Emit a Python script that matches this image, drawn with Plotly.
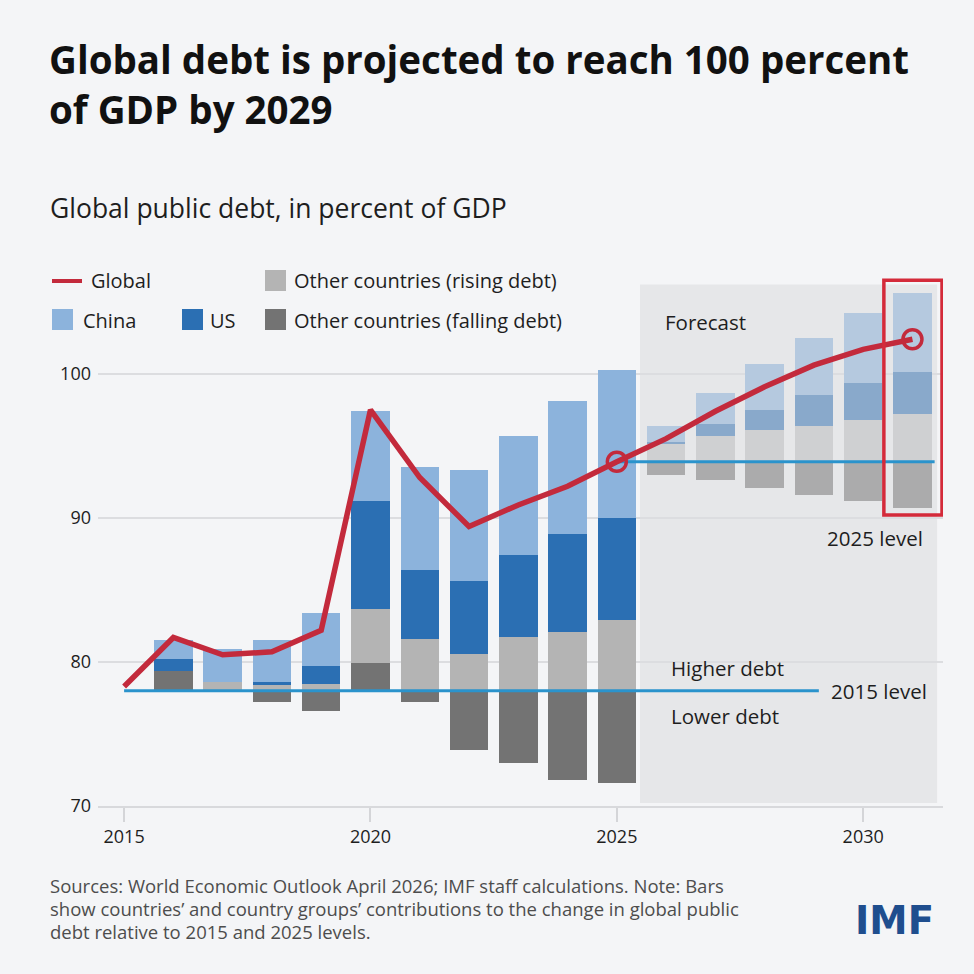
import numpy as np
import plotly.graph_objects as go

# contributions to change in global public debt (pp of GDP)
years = list(range(2016, 2032))
china = [1.3, 2.3, 2.9, 3.7, 6.2, 7.1, 7.7, 8.3, 9.2, 10.3, 1.15, 2.2, 3.2, 4.0, 4.85, 5.5]
us = [0.8, 0.0, 0.2, 1.2, 7.55, 4.8, 5.05, 5.7, 6.8, 7.1, 0.15, 0.8, 1.4, 2.1, 2.55, 2.9]
rising = [0.0, 0.6, 0.4, 0.5, 3.75, 3.6, 2.55, 3.7, 4.1, 4.9, 1.2, 1.8, 2.2, 2.5, 2.9, 3.3]
falling = [1.4, 0.0, -0.8, -1.4, 1.9, -0.8, -4.1, -5.0, -6.2, -6.4, -0.95, -1.3, -1.8, -2.3, -2.75, -3.2]

global_years = list(range(2015, 2032))
global_debt = [78.3, 81.7, 80.5, 80.7, 82.2, 97.5, 92.8, 89.4, 90.9, 92.2, 93.9,
               95.5, 97.4, 99.1, 100.6, 101.7, 102.4]

level_2015 = 78.0
level_2025 = 93.9
last_hist = 2025

W, H = 974, 974
L, R, T, B = 98, 31, 273, 168
XR = [2014.47, 2031.62]
YR = [70, 107]

FONT = "Open Sans"
TXT = "#1e1e1e"
BG = "#f4f5f7"


def px(x):
    return (x - L) / (W - L - R)


def py(y):
    return (H - B - y) / (H - T - B)


# historical colour / forecast colour
colors = {
    "falling": ("#737373", "#ababac"),
    "rising": ("#b4b4b4", "#cfd0d2"),
    "us": ("#2b6fb3", "#89a9cb"),
    "china": ("#8cb3dc", "#b5c9df"),
}

baseline = np.array([level_2015 if y <= last_hist else level_2025 for y in years])
pos = baseline.copy()
neg = baseline.copy()

fig = go.Figure()

for key, vals in [("falling", falling), ("rising", rising), ("us", us), ("china", china)]:
    v = np.array(vals)
    base = np.where(v >= 0, pos, neg + v)
    pos = pos + np.clip(v, 0, None)
    neg = neg + np.clip(v, None, 0)
    cols = [colors[key][0] if y <= last_hist else colors[key][1] for y in years]
    fig.add_trace(go.Bar(x=years, y=np.abs(v), base=base, width=0.78,
                         marker=dict(color=cols, line=dict(width=0)),
                         showlegend=False, hoverinfo="skip"))

# reference levels
fig.add_trace(go.Scatter(x=[2015, 2029.1], y=[level_2015, level_2015], mode="lines",
                         line=dict(color="#2a93cc", width=3), showlegend=False))
fig.add_trace(go.Scatter(x=[2025, 2031.45], y=[level_2025, level_2025], mode="lines",
                         line=dict(color="#2a93cc", width=3), showlegend=False))

# global line
fig.add_trace(go.Scatter(x=global_years, y=global_debt, mode="lines",
                         line=dict(color="#c32a3c", width=5.5), showlegend=False))
mk_years = [2025, 2031]
mk_vals = [global_debt[global_years.index(y)] for y in mk_years]
fig.add_trace(go.Scatter(x=mk_years, y=mk_vals, mode="markers",
                         marker=dict(symbol="circle-open", size=19, color="#c32a3c",
                                     line=dict(width=3.5, color="#c32a3c")),
                         showlegend=False))

shapes = []
# forecast area
shapes.append(dict(type="rect", xref="x", yref="y", x0=2025.47, x1=2031.5, y0=70.2, y1=106.2,
                   fillcolor="#e6e7e9", line=dict(width=0), layer="below"))
# highlight box
shapes.append(dict(type="rect", xref="x", yref="y", x0=2030.42, x1=2031.6, y0=90.2, y1=106.5,
                   fillcolor="rgba(0,0,0,0)", line=dict(color="#d42a3a", width=3.5)))

# legend swatches
shapes.append(dict(type="line", xref="paper", yref="paper", x0=px(52), x1=px(82),
                   y0=py(281), y1=py(281), line=dict(color="#c32a3c", width=4)))
for x0, y0, c in [(265, 270, colors["rising"][0]), (52, 309, colors["china"][0]),
                  (182, 309, colors["us"][0]), (265, 309, colors["falling"][0])]:
    shapes.append(dict(type="rect", xref="paper", yref="paper", x0=px(x0), x1=px(x0 + 21),
                       y0=py(y0), y1=py(y0 + 21), fillcolor=c, line=dict(width=0)))

ann = []


def txt(x, y, s, size, xanchor="left", color=TXT, weight="normal", family=FONT):
    ann.append(dict(x=px(x), y=py(y), xref="paper", yref="paper", text=s, showarrow=False,
                    xanchor=xanchor, yanchor="middle", align="left",
                    font=dict(family=family, size=size, color=color, weight=weight)))


txt(47, 84, "Global debt is projected to reach 100 percent<br>of GDP by 2029", 38.5,
    weight="bold", color="#111")
txt(48, 208, "Global public debt, in percent of GDP", 26.5)

txt(89, 280, "Global", 20)
txt(292, 280, "Other countries (rising debt)", 20)
txt(81, 320, "China", 20)
txt(208, 320, "US", 20)
txt(292, 320, "Other countries (falling debt)", 20)

notes = ["Sources: World Economic Outlook April 2026; IMF staff calculations. Note: Bars",
         "show countries\u2019 and country groups\u2019 contributions to the change in global public",
         "debt relative to 2015 and 2025 levels."]
for i, line in enumerate(notes):
    txt(48, 885 + i * 23.3, line, 18.5, color="#4d4d4d")

txt(853, 920, "IMF", 38.5, weight="bold", color="#1f4e8e", family="DejaVu Sans")

# in-plot labels
for x, y, s, xa in [(2025.93, 103.6, "Forecast", "left"), (2031.25, 88.6, "2025 level", "right"),
                    (2026.05, 79.6, "Higher debt", "left"), (2029.3, 78.0, "2015 level", "left"),
                    (2026.05, 76.25, "Lower debt", "left")]:
    ann.append(dict(x=x, y=y, xref="x", yref="y", text=s, showarrow=False, xanchor=xa,
                    yanchor="middle", font=dict(family=FONT, size=20.5, color=TXT)))

fig.update_layout(
    width=W, height=H,
    margin=dict(l=L, r=R, t=T, b=B),
    paper_bgcolor=BG, plot_bgcolor=BG,
    barmode="overlay", bargap=0,
    shapes=shapes, annotations=ann,
    font=dict(family=FONT, size=18, color=TXT),
    xaxis=dict(range=XR, tickvals=[2015, 2020, 2025, 2030], showgrid=False, zeroline=False,
               ticks="outside", ticklen=14, tickwidth=1.5, tickcolor="#d4d5d8",
               showline=True, linecolor="#d8d9dc", linewidth=1.5,
               tickfont=dict(size=18, color=TXT)),
    yaxis=dict(range=YR, tickvals=[70, 80, 90, 100], showgrid=True, gridcolor="#dcdde0",
               gridwidth=1.5, zeroline=False, ticks="", ticklabelstandoff=6,
               tickfont=dict(size=18, color=TXT)),
)

fig.write_html("out.html", config={"displayModeBar": False},
               post_script="document.body.style.margin='0px';"
                           "document.body.style.background='" + BG + "';")
